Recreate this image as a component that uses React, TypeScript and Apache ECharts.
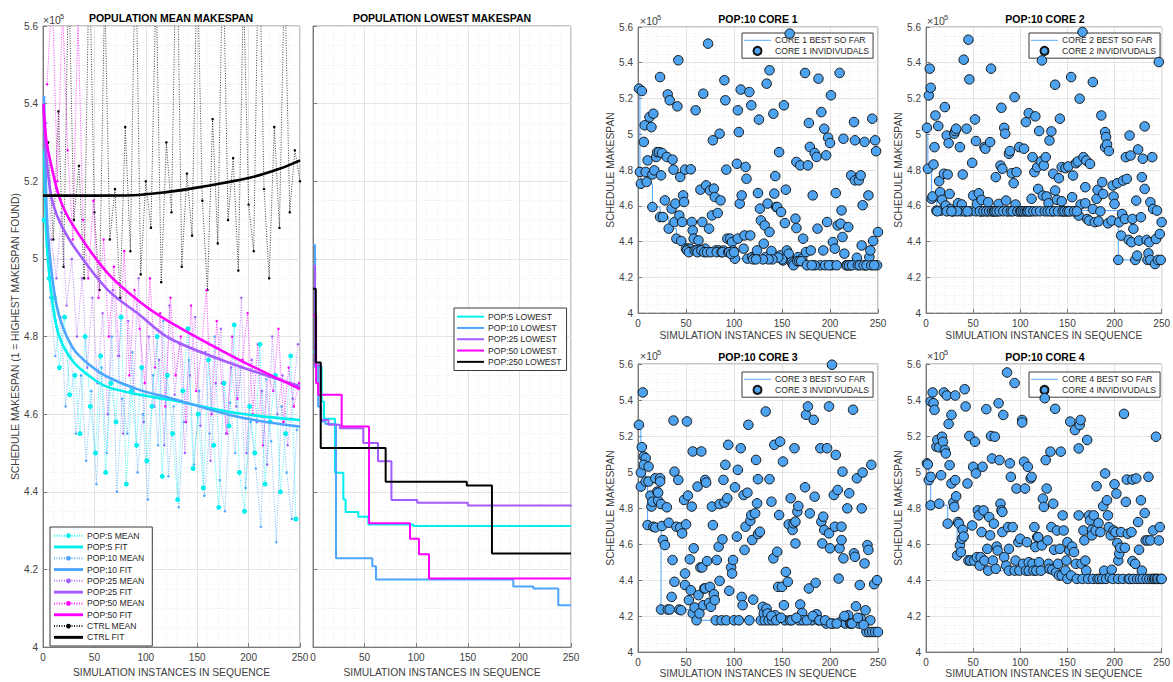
import React, { useEffect, useRef } from "react";
import * as echarts from "echarts";

const FONT = "'Liberation Sans', Arial, Helvetica, sans-serif";
const C5 = "#00F0F0";
const C10 = "#4DA6FF";
const C25 = "#A55CFF";
const C50 = "#FF00FF";
const CK = "#000000";
const DOT = "#4DA3F0";

// ---------- Left panel: population means (every 5th instance, offset per population) ----------
const pop5Mean = [5.10, 4.95, 4.90, 4.72, 4.85, 4.65, 4.70, 4.55, 4.80, 4.62,
  4.50, 4.75, 4.45, 4.68, 4.58, 4.85, 4.42, 4.66, 4.52, 4.72,
  4.48, 4.62, 4.80, 4.44, 4.70, 4.55, 4.38, 4.66, 4.82, 4.46,
  4.60, 4.41, 4.74, 4.52, 4.36, 4.68, 4.57, 4.83, 4.45, 4.35,
  4.62, 4.50, 4.78, 4.42, 4.58, 4.70, 4.40, 4.55, 4.75, 4.33];
const pop10Mean = [5.20, 4.90, 4.75, 4.85, 4.62, 4.78, 4.55, 4.70, 4.48, 4.66,
  4.42, 4.72, 4.50, 4.80, 4.40, 4.64, 4.55, 4.76, 4.45, 4.60,
  4.38, 4.70, 4.52, 4.84, 4.44, 4.62, 4.36, 4.58, 4.74, 4.47,
  4.66, 4.39, 4.55, 4.80, 4.43, 4.35, 4.63, 4.50, 4.72, 4.41,
  4.58, 4.46, 4.31, 4.69, 4.53, 4.27, 4.62, 4.45, 4.33, 4.56];
const pop25Mean = [5.35, 5.05, 4.95, 5.12, 4.88, 5.00, 4.80, 4.95, 4.72, 4.90,
  4.68, 4.86, 4.60, 4.92, 4.75, 4.55, 4.84, 4.66, 4.95, 4.58,
  4.80, 4.62, 4.74, 4.52, 4.88, 4.65, 4.78, 4.50, 4.70, 4.85,
  4.57, 4.76, 4.48, 4.68, 4.82, 4.55, 4.72, 4.62, 4.90, 4.50,
  4.74, 4.58, 4.66, 4.47, 4.80, 4.60, 4.70, 4.52, 4.64, 4.78];
const pop50Mean = [5.45, 5.70, 5.20, 5.65, 5.28, 5.05, 5.62, 5.10, 4.95, 5.15,
  4.90, 5.05, 4.80, 4.98, 4.75, 5.02, 4.70, 4.92, 4.82, 4.68,
  4.95, 4.72, 4.86, 4.62, 4.90, 4.70, 4.80, 4.58, 4.88, 4.66,
  4.76, 4.92, 4.60, 4.84, 4.68, 4.55, 4.80, 4.64, 4.74, 4.86,
  4.60, 4.78, 4.52, 4.70, 4.66, 4.82, 4.58, 4.72, 4.62, 4.68];
const ctrlMean = [5.30, 5.05, 5.38, 4.98, 5.75, 5.10, 5.24, 4.95, 5.80, 5.12,
  4.92, 5.70, 5.05, 5.18, 4.90, 5.34, 5.02, 5.85, 4.96, 5.20,
  5.08, 5.72, 4.94, 5.30, 5.12, 5.90, 4.98, 5.22, 5.06, 5.78,
  5.15, 4.92, 5.36, 5.04, 5.82, 5.10, 5.26, 4.97, 5.70, 5.14,
  5.02, 5.88, 5.18, 4.95, 5.34, 5.08, 5.75, 5.12, 5.28, 5.20];

// fitted curves: [instance, value]
const pop5Fit = [[1, 5.28], [3, 5.08], [5, 4.99], [10, 4.872], [16.5, 4.795], [29.5, 4.735], [45.7, 4.697], [62, 4.671], [94.4, 4.65], [123.5, 4.637], [188, 4.603], [250, 4.585]];
const pop10Fit = [[1, 5.42], [3, 5.17], [5, 5.06], [10, 4.932], [16.5, 4.846], [29.5, 4.769], [45.7, 4.726], [62, 4.697], [94.4, 4.662], [123.5, 4.642], [188, 4.594], [250, 4.568]];
const pop25Fit = [[0.5, 5.39], [3, 5.27], [6.8, 5.18], [10, 5.14], [16.5, 5.094], [29.5, 5.034], [62, 4.923], [94.4, 4.855], [123.5, 4.795], [188, 4.726], [250, 4.672]];
const pop50Fit = [[0.5, 5.40], [3, 5.31], [6.8, 5.256], [16.5, 5.154], [29.5, 5.085], [62, 4.966], [94.4, 4.889], [123.5, 4.837], [188, 4.744], [250, 4.665]];
const ctrlFit = [[0, 5.163], [50, 5.163], [87.6, 5.164], [120, 5.172], [152.7, 5.185], [201, 5.209], [230, 5.232], [250, 5.254]];

// ---------- Middle panel: lowest so far (step changes) ----------
const pop5Lowest = [[0, 4.76], [2, 4.722], [8.4, 4.633], [10.7, 4.588], [21.3, 4.449], [29.4, 4.38], [31.6, 4.348], [43.9, 4.336], [53.6, 4.316], [97.2, 4.312], [250, 4.312]];
const pop10Lowest = [[0, 5.036], [2, 4.72], [5, 4.62], [8, 4.581], [12, 4.575], [22.3, 4.229], [57.5, 4.208], [61, 4.174], [194.1, 4.156], [213.5, 4.151], [237.7, 4.108], [250, 4.108]];
const pop25Lowest = [[0, 4.982], [2, 4.726], [7.5, 4.585], [15, 4.573], [26, 4.564], [48.7, 4.526], [63, 4.479], [76, 4.379], [101, 4.372], [150, 4.365], [250, 4.362]];
const pop50Lowest = [[0, 4.854], [3, 4.68], [5, 4.65], [27.8, 4.568], [54.3, 4.319], [94, 4.279], [102.7, 4.239], [112.4, 4.177], [250, 4.177]];
const pop250Lowest = [[0, 4.923], [2.7, 4.733], [7.5, 4.513], [70.4, 4.426], [149, 4.416], [173.4, 4.241], [250, 4.241]];

// ---------- Right panels: POP:10 per-core individuals ----------
const core1Pts = [[1, 5.255], [4, 5.242], [7, 5.05], [6, 4.957], [2, 4.789], [3, 4.723], [8, 4.789], [10, 4.854], [12, 5.096], [14, 5.04], [16, 5.115], [15, 4.775], [17, 4.798], [9, 4.733], [15, 4.593], [19, 4.873], [20, 4.9], [22, 4.9], [23, 5.32], [24, 4.77], [25, 4.895], [23, 4.537], [26, 4.537], [28, 4.63], [30, 4.873], [31, 5.223], [33, 5.19], [32, 4.472], [35, 4.584], [36, 4.858], [37, 4.802], [38, 4.509], [39, 4.612], [40, 4.416], [41, 5.156], [42, 5.414], [43, 4.546], [44, 4.761], [45, 4.403], [46, 4.509], [47, 4.658], [48, 4.621], [49, 4.802], [50, 4.36], [52, 4.36], [54, 4.36], [55, 4.804], [56, 4.509], [57, 4.462], [58, 4.416], [60, 5.134], [63, 4.406], [64, 4.354], [65, 4.69], [67, 4.509], [68, 5.227], [70, 4.36], [71, 4.714], [73, 5.507], [74, 4.472], [75, 4.686], [77, 4.546], [78, 4.966], [79, 4.696], [80, 4.649], [81, 4.35], [83, 4.559], [84, 4.35], [85, 5.003], [86, 4.63], [89, 4.35], [90, 5.302], [91, 5.19], [92, 4.802], [93, 4.416], [96, 4.416], [98, 4.397], [99, 4.35], [101, 4.304], [103, 4.835], [104, 5.134], [104, 4.416], [105, 5.012], [106, 4.612], [107, 5.25], [108, 4.658], [110, 4.36], [111, 4.434], [112, 4.817], [113, 4.751], [114, 4.304], [116, 5.236], [117, 4.434], [118, 5.162], [119, 4.313], [122, 4.313], [124, 4.35], [125, 4.671], [126, 5.082], [127, 4.584], [128, 4.518], [131, 4.388], [132, 4.49], [133, 4.313], [134, 5.283], [135, 4.612], [137, 5.358], [137, 4.453], [139, 4.347], [141, 5.115], [142, 4.668], [143, 4.766], [144, 4.593], [145, 4.593], [147, 4.9], [148, 4.322], [149, 4.565], [151, 4.294], [152, 5.162], [153, 4.503], [154, 4.69], [155, 4.35], [157, 4.332], [158, 5.563], [160, 4.285], [161, 4.276], [164, 4.528], [165, 4.475], [165, 4.845], [167, 4.313], [169, 4.826], [171, 4.304], [172, 4.416], [174, 5.343], [175, 4.341], [177, 4.826], [178, 5.063], [179, 4.929], [180, 4.35], [182, 4.658], [184, 4.895], [186, 4.873], [187, 4.472], [188, 5.311], [190, 4.267], [191, 5.124], [193, 4.35], [194, 5.031], [196, 4.882], [197, 4.509], [198, 4.981], [200, 4.951], [201, 5.218], [202, 4.267], [203, 4.397], [205, 4.36], [206, 4.671], [208, 4.49], [210, 5.343], [211, 4.5], [212, 4.574], [213, 4.425], [214, 4.975], [215, 4.332], [217, 4.267], [219, 4.481], [221, 4.267], [222, 4.77], [225, 5.068], [226, 4.966], [226, 4.742], [228, 4.309], [230, 4.742], [232, 4.77], [233, 4.378], [234, 4.603], [236, 4.957], [237, 4.267], [240, 4.658], [241, 4.313], [242, 4.35], [244, 5.087], [245, 4.403], [247, 4.966], [248, 4.905], [249, 4.267], [250, 4.453],
  [184, 4.267], [195, 4.267], [199, 4.267], [207, 4.267], [218, 4.267], [220, 4.267], [223, 4.267], [229, 4.267], [231, 4.267], [235, 4.267], [238, 4.267], [243, 4.267], [246, 4.267], [162, 4.267], [166, 4.29], [168, 4.29], [170, 4.29], [176, 4.267], [181, 4.267], [150, 4.3], [146, 4.31], [140, 4.3], [136, 4.3], [130, 4.3], [120, 4.3], [123, 4.3],
  [51, 4.35], [53, 4.34], [59, 4.35], [61, 4.35], [62, 4.34], [66, 4.35], [69, 4.34], [72, 4.34], [76, 4.34], [82, 4.34], [87, 4.34], [88, 4.34], [94, 4.34], [95, 4.34], [97, 4.33], [100, 4.34]];
const core1Best = [[1, 5.255], [2, 4.789], [3, 4.723], [15, 4.593], [23, 4.537], [32, 4.472], [40, 4.416], [45, 4.403], [50, 4.36], [64, 4.354], [101, 4.304], [160, 4.285], [161, 4.276], [190, 4.267], [250, 4.267]];

const core2Pts = [[1, 5.036], [2, 4.807], [3, 5.217], [4, 5.367], [5, 5.26], [6, 4.639], [7, 4.652], [8, 4.831], [9, 4.928], [10, 5.105], [11, 4.573], [13, 5.046], [14, 4.737], [15, 4.676], [16, 4.573], [17, 4.633], [19, 4.779], [20, 5.152], [21, 4.601], [22, 4.993], [23, 4.775], [24, 4.95], [25, 4.666], [26, 4.582], [28, 4.569], [30, 5.003], [31, 5.018], [32, 5.031], [34, 4.614], [35, 4.573], [36, 4.928], [38, 4.607], [39, 4.775], [40, 5.417], [42, 4.569], [43, 5.031], [45, 5.529], [46, 5.307], [47, 4.569], [49, 4.84], [50, 4.657], [52, 5.083], [53, 4.569], [53, 4.962], [54, 4.61], [56, 4.67], [58, 4.569], [59, 4.633], [60, 4.569], [62, 4.928], [63, 4.919], [65, 4.569], [66, 4.62], [68, 4.956], [69, 5.367], [71, 4.569], [74, 4.76], [76, 4.569], [77, 4.61], [79, 4.825], [80, 5.148], [81, 4.807], [83, 5.036], [84, 5.003], [85, 4.629], [87, 4.569], [88, 4.891], [89, 4.906], [91, 4.782], [93, 4.726], [94, 5.208], [95, 4.607], [96, 4.788], [98, 4.569], [99, 4.928], [104, 4.919], [106, 5.068], [109, 5.118], [111, 4.569], [112, 4.639], [113, 4.872], [115, 4.788], [116, 5.1], [118, 4.816], [119, 4.694], [120, 5.018], [122, 4.848], [123, 5.413], [124, 4.657], [125, 4.825], [127, 4.872], [128, 4.652], [130, 4.614], [131, 4.965], [133, 5.016], [134, 4.569], [135, 4.779], [137, 5.277], [137, 4.685], [139, 4.633], [141, 4.754], [142, 5.087], [143, 4.569], [144, 4.816], [144, 4.625], [146, 4.569], [148, 4.81], [149, 4.569], [151, 4.82], [153, 4.569], [154, 5.32], [155, 4.648], [156, 4.769], [158, 4.569], [159, 4.838], [161, 4.848], [162, 4.545], [163, 5.199], [164, 4.607], [166, 5.572], [167, 4.872], [169, 4.614], [169, 4.704], [170, 4.853], [171, 4.526], [173, 4.517], [174, 4.834], [177, 5.292], [177, 4.582], [179, 4.508], [181, 4.639], [182, 4.689], [183, 4.513], [185, 4.569], [186, 5.105], [187, 4.732], [188, 4.666], [190, 4.928], [190, 5.012], [191, 4.984], [192, 4.943], [193, 4.502], [194, 4.906], [197, 4.517], [198, 4.713], [199, 4.652], [200, 4.61], [203, 4.726], [204, 4.297], [205, 4.508], [207, 4.433], [208, 4.554], [209, 4.741], [211, 4.526], [212, 4.872], [213, 4.75], [215, 4.409], [216, 4.993], [217, 4.881], [218, 4.396], [219, 4.526], [220, 4.471], [222, 4.297], [223, 4.629], [224, 4.321], [225, 4.915], [226, 4.405], [228, 4.536], [229, 4.76], [230, 4.863], [232, 4.694], [232, 5.044], [234, 4.409], [235, 4.297], [236, 4.334], [237, 4.396], [238, 4.62], [238, 4.297], [240, 4.872], [241, 4.582], [243, 4.274], [244, 4.414], [245, 4.573], [246, 4.297], [247, 5.404], [248, 4.442], [249, 4.297], [250, 4.508],
  [57, 4.569], [61, 4.569], [64, 4.569], [67, 4.569], [70, 4.569], [72, 4.569], [73, 4.569], [75, 4.569], [78, 4.569], [82, 4.569], [86, 4.569], [90, 4.569], [92, 4.569], [97, 4.569], [100, 4.569], [101, 4.569], [103, 4.569], [105, 4.569], [107, 4.569], [108, 4.569], [110, 4.569], [114, 4.569], [117, 4.569], [121, 4.569], [126, 4.569], [129, 4.569], [132, 4.569], [136, 4.569], [140, 4.569], [145, 4.569], [147, 4.569], [150, 4.569], [152, 4.569], [157, 4.569], [160, 4.569], [37, 4.569], [41, 4.569], [44, 4.569], [29, 4.569], [33, 4.569], [12, 4.569], [22, 4.569], [27, 4.569]];
const core2Best = [[1, 5.036], [2, 4.807], [6, 4.639], [11, 4.573], [204, 4.297], [243, 4.274], [250, 4.274]];

const core3Pts = [[1, 5.262], [5, 5.442], [3, 4.997], [3, 4.919], [4, 5.138], [6, 5.086], [8, 5.077], [6, 5.04], [8, 4.947], [10, 4.705], [11, 5.03], [11, 4.947], [13, 4.869], [14, 4.808], [15, 4.835], [16, 4.696], [18, 4.692], [18, 4.965], [20, 4.891], [21, 4.841], [21, 4.885], [23, 4.965], [23, 4.947], [24, 4.822], [24, 4.236], [25, 4.7], [26, 4.622], [28, 4.594], [30, 4.804], [31, 4.236], [32, 4.718], [33, 4.236], [35, 4.306], [36, 4.511], [37, 5.286], [38, 5.002], [38, 4.39], [40, 4.696], [42, 4.956], [43, 4.236], [44, 4.692], [45, 4.232], [46, 4.659], [48, 4.845], [49, 4.372], [49, 4.436], [50, 4.709], [51, 5.281], [52, 4.869], [53, 4.288], [54, 4.515], [55, 4.343], [56, 4.808], [57, 5.114], [57, 4.214], [58, 4.576], [59, 4.247], [61, 4.176], [62, 4.919], [63, 4.316], [64, 4.214], [65, 4.47], [66, 5.114], [67, 4.47], [68, 4.26], [69, 4.353], [70, 4.353], [70, 4.956], [71, 4.941], [72, 4.505], [74, 4.273], [75, 4.362], [76, 4.251], [77, 4.808], [78, 4.705], [79, 4.321], [80, 4.288], [81, 4.176], [82, 4.511], [84, 4.585], [85, 4.395], [85, 4.822], [87, 4.176], [88, 4.626], [89, 4.956], [90, 4.83], [91, 5.04], [92, 4.176], [93, 4.854], [94, 5.151], [95, 4.34], [97, 4.47], [98, 4.436], [99, 4.511], [100, 4.176], [101, 4.915], [103, 4.641], [104, 5.012], [105, 4.176], [107, 5.132], [108, 4.306], [109, 4.26], [110, 4.872], [111, 4.567], [112, 4.696], [114, 4.885], [115, 5.262], [116, 4.176], [117, 4.729], [118, 4.761], [119, 4.622], [120, 4.291], [122, 4.77], [123, 5.067], [124, 4.826], [125, 4.96], [125, 4.655], [127, 4.668], [128, 4.176], [130, 4.251], [131, 4.214], [132, 4.176], [133, 5.336], [134, 4.241], [135, 4.214], [136, 4.176], [137, 4.96], [139, 4.835], [140, 4.176], [141, 4.52], [142, 5.151], [143, 4.204], [145, 4.557], [146, 4.362], [147, 4.761], [148, 5.169], [150, 4.362], [151, 5.058], [152, 4.26], [153, 4.176], [154, 4.445], [156, 4.39], [157, 4.709], [158, 4.176], [159, 4.854], [161, 4.678], [162, 4.715], [163, 5.132], [164, 4.724], [164, 4.603], [166, 4.78], [167, 4.811], [168, 4.176], [169, 4.264], [171, 4.217], [172, 4.176], [174, 4.915], [175, 5.318], [177, 5.364], [178, 4.353], [179, 4.77], [181, 4.176], [183, 5.29], [184, 4.863], [185, 4.384], [186, 4.21], [188, 4.176], [190, 5.132], [191, 4.724], [192, 4.603], [193, 4.752], [194, 4.678], [196, 4.158], [197, 5.132], [199, 5.364], [199, 4.659], [200, 4.576], [202, 5.596], [203, 4.158], [204, 4.872], [205, 4.696], [206, 5.095], [208, 4.9], [209, 4.408], [210, 4.576], [211, 4.167], [212, 4.622], [212, 4.696], [213, 5.002], [214, 4.52], [216, 4.158], [217, 4.195], [218, 4.798], [219, 4.204], [220, 4.882], [221, 4.158], [222, 4.158], [224, 5.346], [225, 4.548], [226, 4.529], [227, 4.254], [228, 4.965], [230, 4.158], [231, 4.372], [232, 4.186], [233, 4.798], [234, 4.997], [236, 4.492], [237, 4.232], [238, 4.111], [239, 4.594], [240, 4.567], [241, 4.111], [242, 4.176], [243, 5.04], [244, 4.111], [246, 4.377], [247, 4.111], [249, 4.399], [250, 4.111],
  [139, 4.2], [144, 4.176], [149, 4.19], [160, 4.176], [165, 4.19], [176, 4.176], [182, 4.2], [189, 4.176], [195, 4.176], [201, 4.158], [207, 4.158], [215, 4.2], [223, 4.158], [229, 4.19], [235, 4.15]];
const core3Best = [[1, 5.262], [3, 4.997], [8, 4.947], [10, 4.705], [18, 4.692], [24, 4.236], [57, 4.214], [61, 4.176], [196, 4.158], [238, 4.111], [250, 4.111]];

const core4Pts = [[1, 5.048], [2, 5.042], [3, 4.955], [5, 4.973], [5, 4.815], [5, 5.392], [7, 5.442], [8, 5.382], [9, 5.345], [11, 5.141], [12, 5.178], [14, 5.137], [14, 4.824], [16, 4.982], [17, 5.196], [18, 5.168], [19, 5.442], [20, 5.122], [21, 5.103], [22, 5.425], [23, 4.713], [24, 5.267], [25, 5.038], [27, 5.317], [27, 4.936], [29, 4.83], [30, 4.806], [31, 5.425], [31, 4.955], [32, 4.865], [33, 4.536], [34, 4.722], [35, 4.713], [36, 4.592], [37, 4.555], [38, 4.629], [39, 4.679], [40, 4.642], [41, 5.46], [42, 5.364], [44, 4.936], [45, 4.508], [46, 5.2], [47, 4.508], [49, 4.703], [50, 5.029], [51, 4.508], [52, 5.168], [53, 4.992], [54, 4.527], [55, 4.787], [56, 4.759], [57, 4.48], [58, 4.527], [59, 4.666], [60, 5.029], [61, 4.787], [62, 4.508], [64, 5.349], [65, 4.573], [66, 4.452], [67, 4.75], [68, 4.648], [69, 5.2], [70, 5.075], [71, 4.508], [72, 4.713], [73, 5.196], [74, 4.462], [75, 4.586], [76, 4.564], [77, 5.382], [78, 5.066], [79, 4.824], [80, 4.787], [81, 4.778], [81, 4.666], [82, 5.317], [83, 4.527], [85, 4.48], [86, 5.553], [87, 4.694], [88, 4.573], [88, 4.452], [89, 5.048], [90, 4.973], [92, 4.694], [94, 5.494], [94, 4.452], [95, 4.508], [96, 4.908], [98, 4.61], [99, 4.452], [100, 4.629], [102, 5.289], [102, 5.275], [103, 4.49], [104, 5.057], [105, 4.908], [106, 4.452], [107, 4.61], [108, 5.029], [109, 4.499], [109, 4.452], [111, 4.964], [112, 4.973], [113, 4.49], [114, 4.452], [115, 4.694], [116, 4.583], [117, 4.452], [118, 4.638], [119, 4.638], [120, 4.499], [122, 4.452], [123, 4.592], [124, 4.852], [125, 4.806], [126, 5.41], [127, 5.066], [128, 4.908], [129, 4.62], [130, 4.49], [131, 4.462], [132, 5.113], [133, 4.694], [134, 4.457], [135, 4.824], [136, 4.568], [137, 5.351], [138, 4.443], [139, 4.675], [140, 4.49], [141, 4.425], [142, 4.573], [143, 5.113], [144, 4.425], [145, 4.759], [146, 4.675], [148, 4.452], [149, 4.508], [150, 4.406], [150, 4.61], [152, 4.564], [153, 5.28], [154, 4.425], [155, 4.586], [157, 4.555], [158, 5.233], [159, 4.49], [160, 4.406], [162, 4.759], [162, 5.131], [163, 5.261], [164, 5.289], [165, 4.49], [166, 4.406], [167, 4.675], [168, 4.62], [169, 4.508], [170, 4.452], [171, 5.178], [172, 4.406], [173, 4.759], [174, 4.731], [176, 4.679], [176, 4.648], [177, 4.406], [178, 4.759], [180, 4.675], [181, 4.921], [182, 4.406], [183, 4.716], [184, 4.406], [185, 4.666], [187, 4.406], [188, 4.81], [189, 4.452], [190, 4.992], [191, 4.406], [192, 4.843], [193, 4.759], [194, 4.694], [195, 4.415], [196, 4.648], [197, 4.457], [198, 4.406], [199, 4.675], [200, 4.932], [201, 4.666], [202, 4.88], [203, 4.605], [204, 4.406], [204, 4.508], [205, 4.545], [206, 4.579], [207, 4.666], [209, 4.406], [210, 5.323], [211, 4.579], [212, 4.834], [213, 4.958], [214, 4.657], [215, 4.406], [216, 4.406], [218, 4.666], [219, 4.505], [219, 4.958], [220, 4.406], [222, 4.49], [223, 4.964], [224, 4.406], [225, 4.722], [226, 4.568], [227, 4.406], [228, 4.843], [229, 4.452], [230, 4.406], [232, 4.772], [233, 4.62], [234, 4.406], [235, 4.62], [236, 4.973], [237, 4.406], [238, 4.62], [240, 4.406], [241, 4.675], [242, 4.406], [243, 4.406], [244, 5.196], [245, 4.406], [246, 4.406], [247, 4.62], [248, 4.694], [249, 4.406], [250, 4.406]];
const core4Best = [[1, 5.048], [3, 4.955], [5, 4.815], [23, 4.713], [33, 4.536], [57, 4.48], [66, 4.452], [138, 4.443], [141, 4.425], [150, 4.406], [250, 4.406]];

const xLabelName = "SIMULATION INSTANCES IN SEQUENCE";
const AX = 10;      // tick label size
const NM = 10.3;    // axis name size
const LG = 8.6;     // legend text size

const LINE_THICK = "path://M0,0H30V3H0Z";
const LINE_MID = "path://M0,0H30V2.2H0Z";
const LINE_THIN = "path://M0,0H30V1H0Z";

function withX(start: number, vals: number[]) {
  return vals.map((v, i) => [start + 5 * i, v]);
}

function xAxisCfg(gridIndex: number, nameGap: number) {
  return {
    type: "value", gridIndex, min: 0, max: 250, interval: 50,
    axisLine: { show: true, onZero: false, lineStyle: { color: "#7a7a7a", width: 1 } },
    axisTick: { show: true, inside: true, length: 4, lineStyle: { color: "#7a7a7a" } },
    axisLabel: { color: "#404040", fontSize: AX, fontFamily: FONT, margin: 5 },
    splitLine: { show: true, lineStyle: { color: "#e3e3e3", width: 1 } },
    minorTick: { show: false, splitNumber: 5 },
    minorSplitLine: { show: true, lineStyle: { color: "#ececec", width: 1, type: [1, 2] } },
    name: xLabelName, nameLocation: "middle", nameGap,
    nameTextStyle: { color: "#404040", fontSize: NM, fontFamily: FONT },
  };
}

function yAxisCfg(gridIndex: number, name: string, nameGap: number, showLabels = true) {
  return {
    type: "value", gridIndex, min: 4, max: 5.6, interval: 0.2,
    axisLine: { show: true, onZero: false, lineStyle: { color: "#7a7a7a", width: 1 } },
    axisTick: { show: true, inside: true, length: 4, lineStyle: { color: "#7a7a7a" } },
    axisLabel: {
      show: showLabels, color: "#404040", fontSize: AX, fontFamily: FONT, margin: 5,
      formatter: (v: number) => String(+v.toFixed(1)),
    },
    splitLine: { show: true, lineStyle: { color: "#e3e3e3", width: 1 } },
    minorTick: { show: false, splitNumber: 4 },
    minorSplitLine: { show: true, lineStyle: { color: "#ececec", width: 1, type: [1, 2] } },
    name, nameLocation: "middle", nameGap,
    nameTextStyle: { color: "#404040", fontSize: NM, fontFamily: FONT },
  };
}

function gridCfg(left: number, top: number, width: number, height: number) {
  return { left, top, width, height, show: true, borderColor: "#8a8a8a", borderWidth: 1, backgroundColor: "#ffffff", containLabel: false };
}

function meanSeries(name: string, color: string, data: number[][], size: number, z: number) {
  return {
    name, type: "line", xAxisIndex: 0, yAxisIndex: 0, data,
    symbol: "circle", symbolSize: size, showSymbol: true,
    lineStyle: { color, width: 0.9, type: [1, 1.5], opacity: 0.85 },
    itemStyle: { color }, z, silent: true,
  };
}

function fitSeries(name: string, color: string, data: number[][]) {
  return {
    name, type: "line", xAxisIndex: 0, yAxisIndex: 0, data, smooth: 0.35,
    symbol: "none", lineStyle: { color, width: 2.6 }, itemStyle: { color }, z: 6, silent: true,
  };
}

function stepSeries(name: string, color: string, data: number[][]) {
  return {
    name, type: "line", xAxisIndex: 1, yAxisIndex: 1, data, step: "end",
    symbol: "none", lineStyle: { color, width: 2 }, itemStyle: { color }, z: 4, silent: true,
  };
}

function coreSeries(core: number, axis: number, best: number[][], pts: number[][]) {
  return [
    {
      name: `CORE ${core} BEST SO FAR`, type: "line", xAxisIndex: axis, yAxisIndex: axis,
      data: best, step: "end", symbol: "none",
      lineStyle: { color: C10, width: 1 }, itemStyle: { color: C10 }, z: 3, silent: true,
    },
    {
      name: `CORE ${core} INVIDIVUDALS`, type: "scatter", xAxisIndex: axis, yAxisIndex: axis,
      data: pts, symbol: "circle", symbolSize: 9.5,
      itemStyle: { color: DOT, borderColor: "#151515", borderWidth: 1, opacity: 1 }, z: 4, silent: true,
    },
  ];
}

function legendText(lineHeight: number) {
  return { fontSize: LG, fontFamily: FONT, color: "#262626", lineHeight, padding: [0, 0, 0, -1] };
}

function coreLegend(core: number, left: number, top: number) {
  return {
    orient: "vertical", left, top, itemWidth: 27, itemHeight: 8, itemGap: 0,
    padding: [2, 4, 2, 2], borderColor: "#3a3a3a", borderWidth: 1, backgroundColor: "#ffffff",
    textStyle: legendText(10.6), selectedMode: false,
    data: [{ name: `CORE ${core} BEST SO FAR`, icon: LINE_THIN }, { name: `CORE ${core} INVIDIVUDALS` }],
  };
}

function txt(x: number, y: number, text: string, size: number, bold = false, align = "center") {
  return {
    type: "text", x, y, silent: true, z: 100,
    style: {
      text, fontSize: size, fontFamily: FONT, fontWeight: bold ? "bold" : "normal",
      fill: bold ? "#000000" : "#404040", textAlign: align, textVerticalAlign: "middle",
    },
  };
}

function times10(x: number, y: number) {
  return [txt(x, y, "×10", 10.5, false, "left"), txt(x + 17, y - 4, "5", 7.5, false, "left")];
}

export default function App() {
  const ref = useRef<HTMLDivElement>(null);
  useEffect(() => {
    if (!ref.current) return;
    const chart = echarts.init(ref.current, null, { renderer: "svg" });
    const option = {
      animation: false,
      backgroundColor: "#ffffff",
      grid: [
        gridCfg(43, 26, 257, 624),
        gridCfg(313, 26, 258, 624),
        gridCfg(638, 27, 240, 286),
        gridCfg(926, 27, 238, 286),
        gridCfg(638, 364, 240, 288),
        gridCfg(926, 364, 238, 288),
      ],
      xAxis: [
        xAxisCfg(0, 17), xAxisCfg(1, 17), xAxisCfg(2, 17), xAxisCfg(3, 17), xAxisCfg(4, 16), xAxisCfg(5, 16),
      ],
      yAxis: [
        yAxisCfg(0, "SCHEDULE MAKESPAN (1 = HIGHEST MAKESPAN FOUND)", 20),
        yAxisCfg(1, "", 20, false),
        yAxisCfg(2, "SCHEDULE MAKESPAN", 20),
        yAxisCfg(3, "SCHEDULE MAKESPAN", 22),
        yAxisCfg(4, "SCHEDULE MAKESPAN", 20),
        yAxisCfg(5, "SCHEDULE MAKESPAN", 22),
      ],
      legend: [
        {
          orient: "vertical", left: 50, top: 527, itemWidth: 29, itemHeight: 6, itemGap: 0,
          padding: [3, 8, 3, 3], borderColor: "#3a3a3a", borderWidth: 1, backgroundColor: "#ffffff",
          textStyle: legendText(11.3), selectedMode: false,
          data: [
            { name: "POP:5 MEAN" }, { name: "POP:5 FIT", icon: LINE_THICK },
            { name: "POP:10 MEAN" }, { name: "POP:10 FIT", icon: LINE_THICK },
            { name: "POP:25 MEAN" }, { name: "POP:25 FIT", icon: LINE_THICK },
            { name: "POP:50 MEAN" }, { name: "POP:50 FIT", icon: LINE_THICK },
            { name: "CTRL MEAN" }, { name: "CTRL FIT", icon: LINE_THICK },
          ],
        },
        {
          orient: "vertical", left: 454, top: 308, itemWidth: 27, itemHeight: 6, itemGap: 0,
          padding: [3, 5, 3, 3], borderColor: "#3a3a3a", borderWidth: 1, backgroundColor: "#ffffff",
          textStyle: legendText(11.3), selectedMode: false,
          data: ["POP:5 LOWEST", "POP:10 LOWEST", "POP:25 LOWEST", "POP:50 LOWEST", "POP:250 LOWEST"].map((n) => ({ name: n, icon: LINE_MID })),
        },
        coreLegend(1, 742, 33),
        coreLegend(2, 1029, 33),
        coreLegend(3, 742, 372),
        coreLegend(4, 1029, 372),
      ],
      graphic: [
        txt(171, 18, "POPULATION MEAN MAKESPAN", 10.5, true),
        txt(442, 18, "POPULATION LOWEST MAKESPAN", 10.5, true),
        txt(758, 19, "POP:10 CORE 1", 10.5, true),
        txt(1045, 19, "POP:10 CORE 2", 10.5, true),
        txt(758, 357, "POP:10 CORE 3", 10.5, true),
        txt(1045, 357, "POP:10 CORE 4", 10.5, true),
        ...times10(43, 20),
        ...times10(640, 21),
        ...times10(927, 21),
        ...times10(640, 356),
        ...times10(927, 356),
      ],
      series: [
        meanSeries("CTRL MEAN", CK, withX(5, ctrlMean), 2.5, 1),
        meanSeries("POP:50 MEAN", C50, withX(4, pop50Mean), 2.5, 2),
        meanSeries("POP:25 MEAN", C25, withX(3, pop25Mean), 2.5, 2),
        meanSeries("POP:10 MEAN", C10, withX(2, pop10Mean), 2.5, 2),
        meanSeries("POP:5 MEAN", C5, withX(1, pop5Mean), 5, 3),
        fitSeries("POP:5 FIT", C5, pop5Fit),
        fitSeries("POP:10 FIT", C10, pop10Fit),
        fitSeries("POP:25 FIT", C25, pop25Fit),
        fitSeries("POP:50 FIT", C50, pop50Fit),
        fitSeries("CTRL FIT", CK, ctrlFit),
        stepSeries("POP:5 LOWEST", C5, pop5Lowest),
        stepSeries("POP:10 LOWEST", C10, pop10Lowest),
        stepSeries("POP:25 LOWEST", C25, pop25Lowest),
        stepSeries("POP:50 LOWEST", C50, pop50Lowest),
        stepSeries("POP:250 LOWEST", CK, pop250Lowest),
        ...coreSeries(1, 2, core1Best, core1Pts),
        ...coreSeries(2, 3, core2Best, core2Pts),
        ...coreSeries(3, 4, core3Best, core3Pts),
        ...coreSeries(4, 5, core4Best, core4Pts),
      ],
    };
    chart.setOption(option as any);
    return () => chart.dispose();
  }, []);
  return (
    <div
      ref={ref}
      style={{ position: "absolute", left: 0, top: 0, width: 1173, height: 682, background: "#fff" }}
    />
  );
}
